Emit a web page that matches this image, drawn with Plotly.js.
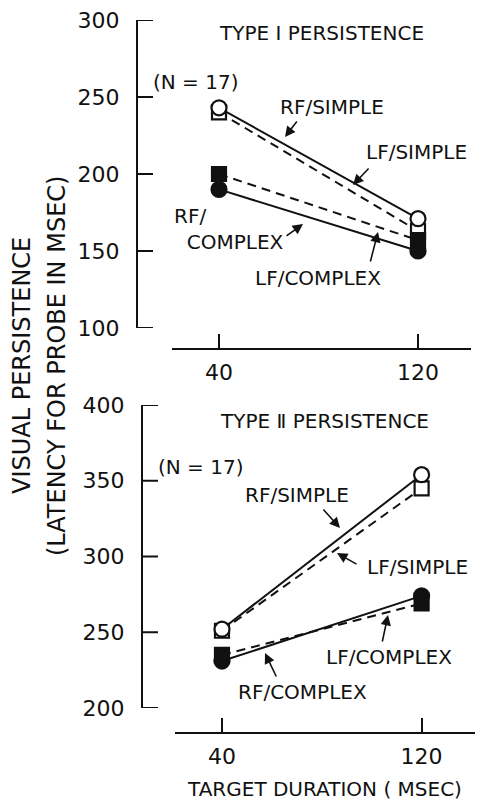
<!DOCTYPE html>
<html>
<head>
<meta charset="utf-8">
<script src="https://cdn.plot.ly/plotly-3.0.1.min.js"></script>
<style>html,body{margin:0;padding:0;background:#fff;}#chart{width:491px;height:802px;}</style>
</head>
<body>
<div id="chart"></div>
<script>
// ---- data ----
const durations = [40, 120];
const xTickLabels = ['40', '120'];
// Type I persistence (top panel)
const t1_rfSimple  = [243, 171];
const t1_lfSimple  = [240, 163];
const t1_lfComplex = [200, 157];
const t1_rfComplex = [190, 150];
const t1_yTicks = [100, 150, 200, 250, 300];
// Type II persistence (bottom panel)
const t2_rfSimple  = [252, 354];
const t2_lfSimple  = [251, 345];
const t2_lfComplex = [235, 269];
const t2_rfComplex = [231, 274];
const t2_yTicks = [200, 250, 300, 350, 400];

const W = 491, H = 802;
const px = x => x / W;
const py = y => 1 - y / H;
const FONT = 'DejaVu Sans, sans-serif';
const INK = '#111';

function series(xa, ya, y, dash, symbol, filled) {
  return {
    x: durations, y: y, xaxis: xa, yaxis: ya, type: 'scatter', mode: 'lines+markers',
    line: {color: INK, width: 2, dash: dash},
    marker: {symbol: symbol, size: symbol === 'square' ? 14 : 15, color: filled ? INK : '#fff',
             line: {color: INK, width: 2.2}},
    cliponaxis: false, showlegend: false, hoverinfo: 'skip'
  };
}

const traces = [
  series('x', 'y', t1_lfSimple, '9px,6px', 'square', false),
  series('x', 'y', t1_lfComplex, '9px,6px', 'square', true),
  series('x', 'y', t1_rfSimple, 'solid', 'circle', false),
  series('x', 'y', t1_rfComplex, 'solid', 'circle', true),
  series('x2', 'y2', t2_lfSimple, '9px,6px', 'square', false),
  series('x2', 'y2', t2_lfComplex, '9px,6px', 'square', true),
  series('x2', 'y2', t2_rfSimple, 'solid', 'circle', false),
  series('x2', 'y2', t2_rfComplex, 'solid', 'circle', true)
];

const xCommon = {
  tickmode: 'array', tickvals: durations, ticktext: xTickLabels,
  ticks: 'inside', ticklen: 15, tickwidth: 2, tickcolor: INK,
  showline: false, showgrid: false, zeroline: false,
  tickfont: {family: FONT, size: 22, color: INK}, ticklabelstandoff: 8,
  anchor: 'free', fixedrange: true
};
const yCommon = {
  ticks: '', showline: true, linewidth: 2, linecolor: INK, showgrid: false, zeroline: false,
  tickfont: {family: FONT, size: 22, color: INK}, ticklabelstandoff: 12,
  fixedrange: true, tickmode: 'array'
};

function ann(text, x, y, opts) {
  return Object.assign({text: text, x: px(x), y: py(y), xref: 'paper', yref: 'paper',
    showarrow: false, xanchor: 'center', yanchor: 'middle',
    font: {family: FONT, size: 20, color: INK}}, opts || {});
}
function arrow(tx, ty, hx, hy) {
  return {text: '', x: px(hx), y: py(hy), xref: 'paper', yref: 'paper',
    showarrow: true, ax: tx - hx, ay: ty - hy, axref: 'pixel', ayref: 'pixel',
    arrowhead: 2, arrowsize: 1.3, arrowwidth: 1.6, arrowcolor: INK, standoff: 0, startstandoff: 0,
    font: {size: 1}};
}

const annotations = [
  ann('TYPE Ⅰ PERSISTENCE', 321, 33),
  ann('(N = 17)', 196, 82),
  ann('RF/SIMPLE', 332, 107),
  ann('LF/SIMPLE', 416, 152),
  ann('RF/<br>\u00a0\u00a0COMPLEX', 172, 229, {xanchor: 'left', align: 'left'}),
  ann('LF/COMPLEX', 318, 278),
  arrow(298, 120, 285, 137),
  arrow(370, 167, 353, 185),
  arrow(285, 237, 303, 224),
  arrow(370, 263, 378, 232),

  ann('TYPE Ⅱ PERSISTENCE', 324, 421),
  ann('(N = 17)', 201, 467),
  ann('RF/SIMPLE', 297, 495),
  ann('LF/SIMPLE', 417, 567),
  ann('LF/COMPLEX', 389, 657),
  ann('RF/COMPLEX', 302, 692),
  arrow(322, 508, 340, 528),
  arrow(358, 565, 337, 553),
  arrow(382, 643, 388, 615),
  arrow(277, 678, 265, 653),

  ann('TARGET DURATION ( MSEC)', 324, 789, {font: {family: FONT, size: 20, color: INK}}),
  ann('VISUAL PERSISTENCE', 22, 366, {textangle: -90, font: {family: FONT, size: 24, color: INK}}),
  ann('(LATENCY FOR PROBE IN MSEC)', 57, 366, {textangle: -90, font: {family: FONT, size: 24, color: INK}})
];

// detached x-axis baselines and the y-axis tick stubs that point into the plot
const shapes = [
  {type: 'line', xref: 'paper', yref: 'paper', x0: px(172), x1: px(471), y0: py(349), y1: py(349), line: {color: INK, width: 2}},
  {type: 'line', xref: 'paper', yref: 'paper', x0: px(175), x1: px(475), y0: py(733), y1: py(733), line: {color: INK, width: 2}}
];
t1_yTicks.forEach(v => shapes.push({type: 'line', xref: 'paper', yref: 'y', x0: px(137), x1: px(153), y0: v, y1: v, line: {color: INK, width: 2}}));
t2_yTicks.forEach(v => shapes.push({type: 'line', xref: 'paper', yref: 'y2', x0: px(142), x1: px(158), y0: v, y1: v, line: {color: INK, width: 2}}));

const layout = {
  width: W, height: H, margin: {l: 0, r: 0, t: 0, b: 0},
  paper_bgcolor: '#fff', plot_bgcolor: 'rgba(0,0,0,0)', showlegend: false,
  xaxis: Object.assign({}, xCommon, {domain: [px(138), px(471)], range: [7.44, 141.3], position: py(349)}),
  yaxis: Object.assign({}, yCommon, {domain: [py(328), py(20)], range: [100, 300], tickvals: t1_yTicks, anchor: 'x'}),
  xaxis2: Object.assign({}, xCommon, {domain: [px(143), px(475)], range: [8.35, 141.4], position: py(733)}),
  yaxis2: Object.assign({}, yCommon, {domain: [py(708), py(405)], range: [200, 400], tickvals: t2_yTicks, anchor: 'x2'}),
  shapes: shapes,
  annotations: annotations
};

Plotly.newPlot('chart', traces, layout, {staticPlot: true, displayModeBar: false});
</script>
</body>
</html>
